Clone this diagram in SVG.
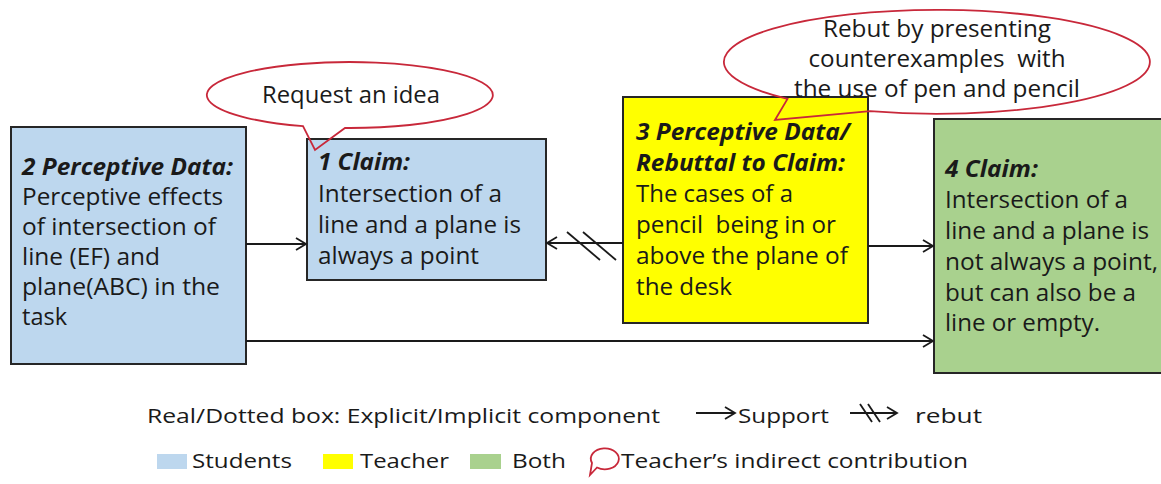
<svg xmlns="http://www.w3.org/2000/svg" width="1161" height="484" viewBox="0 0 1161 484">
<style>
.box{stroke:#262626;stroke-width:2}
.stu{fill:#BDD7EE}.tea{fill:#FFFF00}.both{fill:#A9D18E}
.t{font-family:"Open Sans","Noto Sans",sans-serif;font-size:23px;fill:#1a1a1a}
.h{font-weight:bold;font-style:italic}
.lg{font-family:"Open Sans","Noto Sans",sans-serif;font-size:20px;fill:#1a1a1a}
.conn{stroke:#1a1a1a;stroke-width:1.8;fill:none}
.call{stroke:#C8283A;stroke-width:1.8;fill:none}
</style>
<defs>
<marker id="arr" markerUnits="userSpaceOnUse" markerWidth="14" markerHeight="14" viewBox="0 0 14 14" refX="12" refY="7" orient="auto">
<path d="M2,1 L12,7 L2,13" fill="none" stroke="#1a1a1a" stroke-width="1.8"/>
</marker>
</defs>

<g id="node2">
<rect class="box stu" x="11" y="127" width="235" height="237"/>
<text class="t h" x="22" y="175" textLength="211" lengthAdjust="spacingAndGlyphs">2 Perceptive Data:</text>
<text class="t" x="22" y="205" textLength="201" lengthAdjust="spacingAndGlyphs">Perceptive effects</text>
<text class="t" x="22" y="235" textLength="194" lengthAdjust="spacingAndGlyphs">of intersection of</text>
<text class="t" x="22" y="265" textLength="138" lengthAdjust="spacingAndGlyphs">line (EF) and</text>
<text class="t" x="22" y="295" textLength="198" lengthAdjust="spacingAndGlyphs">plane(ABC) in the</text>
<text class="t" x="22" y="325" textLength="45" lengthAdjust="spacingAndGlyphs">task</text>
</g>

<g id="node1">
<rect class="box stu" x="307" y="139" width="239" height="141"/>
<text class="t h" x="318" y="170" textLength="92" lengthAdjust="spacingAndGlyphs">1 Claim:</text>
<text class="t" x="318" y="202" textLength="184" lengthAdjust="spacingAndGlyphs">Intersection of a</text>
<text class="t" x="318" y="233" textLength="203" lengthAdjust="spacingAndGlyphs">line and a plane is</text>
<text class="t" x="318" y="264" textLength="161" lengthAdjust="spacingAndGlyphs">always a point</text>
</g>

<g id="node3">
<rect class="box tea" x="623" y="97" width="245" height="226"/>
<text class="t h" x="636" y="140" textLength="214" lengthAdjust="spacingAndGlyphs">3 Perceptive Data/</text>
<text class="t h" x="636" y="171" textLength="209" lengthAdjust="spacingAndGlyphs">Rebuttal to Claim:</text>
<text class="t" x="636" y="202" textLength="157" lengthAdjust="spacingAndGlyphs">The cases of a</text>
<text class="t" x="636" y="233" textLength="200" lengthAdjust="spacingAndGlyphs" xml:space="preserve">pencil  being in or</text>
<text class="t" x="636" y="264" textLength="212" lengthAdjust="spacingAndGlyphs">above the plane of</text>
<text class="t" x="636" y="295" textLength="96" lengthAdjust="spacingAndGlyphs">the desk</text>
</g>

<g id="node4">
<rect class="box both" x="934" y="119" width="232" height="254"/>
<text class="t h" x="945" y="177" textLength="93" lengthAdjust="spacingAndGlyphs">4 Claim:</text>
<text class="t" x="945" y="208" textLength="183" lengthAdjust="spacingAndGlyphs">Intersection of a</text>
<text class="t" x="945" y="239" textLength="204" lengthAdjust="spacingAndGlyphs">line and a plane is</text>
<text class="t" x="945" y="270" textLength="213" lengthAdjust="spacingAndGlyphs">not always a point,</text>
<text class="t" x="945" y="301" textLength="191" lengthAdjust="spacingAndGlyphs">but can also be a</text>
<text class="t" x="945" y="331" textLength="155" lengthAdjust="spacingAndGlyphs">line or empty.</text>
</g>

<g id="connectors">
<line class="conn" x1="246" y1="244" x2="306" y2="244" marker-end="url(#arr)"/>
<line class="conn" x1="246" y1="341" x2="933" y2="341" marker-end="url(#arr)"/>
<line class="conn" x1="868" y1="246" x2="933" y2="246" marker-end="url(#arr)"/>
<line class="conn" x1="623" y1="243" x2="547" y2="243" marker-end="url(#arr)"/>
<line class="conn" x1="567" y1="232" x2="600" y2="260"/>
<line class="conn" x1="583" y1="232" x2="616" y2="260"/>
</g>

<g id="callout1">
<path class="call" d="M345,128 A143,33 0 1 0 303,126.2 L315,150 Z"/>
<text class="t" x="351" y="103" text-anchor="middle" textLength="178" lengthAdjust="spacingAndGlyphs">Request an idea</text>
</g>

<g id="callout2">
<path class="call" d="M870,111.2 A213,52 0 1 0 787.5,98.9 L775,120 Z"/>
<text class="t" x="937" y="37" text-anchor="middle" textLength="228" lengthAdjust="spacingAndGlyphs">Rebut by presenting</text>
<text class="t" x="937" y="67" text-anchor="middle" textLength="257" lengthAdjust="spacingAndGlyphs" xml:space="preserve">counterexamples  with</text>
<text class="t" x="937" y="97" text-anchor="middle" textLength="286" lengthAdjust="spacingAndGlyphs">the use of pen and pencil</text>
</g>

<g id="legend">
<text class="lg" x="147" y="423" textLength="513" lengthAdjust="spacingAndGlyphs">Real/Dotted box: Explicit/Implicit component</text>
<line class="conn" x1="696" y1="413" x2="735" y2="413" marker-end="url(#arr)"/>
<text class="lg" x="738" y="423" textLength="91" lengthAdjust="spacingAndGlyphs">Support</text>
<line class="conn" x1="850" y1="413" x2="897" y2="413" marker-end="url(#arr)"/>
<line class="conn" x1="860" y1="404" x2="872" y2="422"/>
<line class="conn" x1="868" y1="404" x2="880" y2="422"/>
<text class="lg" x="915" y="423" textLength="67" lengthAdjust="spacingAndGlyphs">rebut</text>
<rect class="stu" x="157" y="454" width="30" height="15"/>
<text class="lg" x="192" y="468" textLength="100" lengthAdjust="spacingAndGlyphs">Students</text>
<rect class="tea" x="323" y="454" width="30" height="15"/>
<text class="lg" x="360" y="468" textLength="89" lengthAdjust="spacingAndGlyphs">Teacher</text>
<rect class="both" x="470" y="454" width="31" height="15"/>
<text class="lg" x="512" y="468" textLength="54" lengthAdjust="spacingAndGlyphs">Both</text>
<path class="call" d="M597,467.5 A14,10.5 0 1 0 592,463 L590,475 Z"/>
<text class="lg" x="621" y="468" textLength="347" lengthAdjust="spacingAndGlyphs">Teacher’s indirect contribution</text>
</g>
</svg>
